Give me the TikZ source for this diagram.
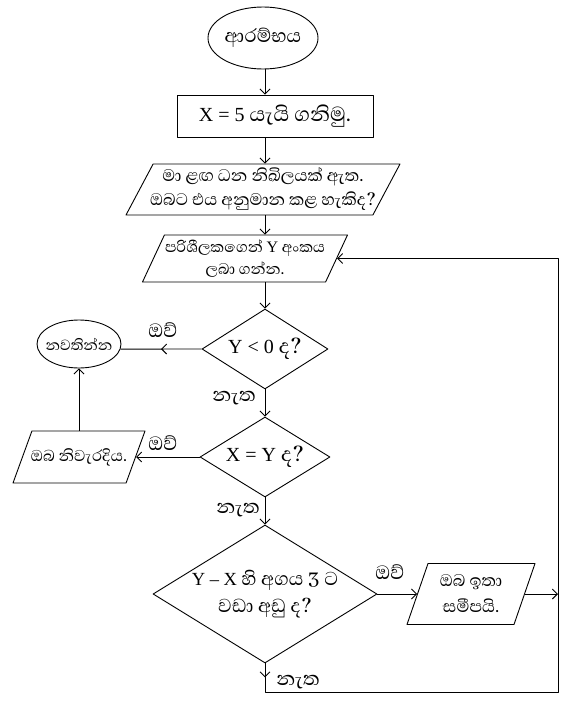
\documentclass[tikz,border=0pt]{standalone}
\usepackage{fontspec}
\setmainfont{Liberation Serif}
\newfontfamily\sifont[Script=Sinhala,Scale=1.3]{Abhaya Libre}
\usetikzlibrary{shapes.geometric,arrows.meta,decorations.markings}
\begin{document}
\begin{tikzpicture}[x=1pt,y=-1pt, line width=0.9pt, line join=round,
  tip/.style={-{Straight Barb[length=5pt,width=10pt,line width=0.9pt]}},
  midarrow/.style={postaction={decorate},decoration={markings,mark=at position #1 with {\arrow{Straight Barb[length=5pt,width=10pt,line width=0.9pt]}}}},
  shp/.style={draw, inner sep=0pt},
  sq/.style={shp, rectangle},
  oval/.style={shp, ellipse},
  dia/.style={shp, diamond},
  para/.style={shp, trapezium, trapezium stretches body},
  lab/.style={font=\sifont\fontsize{19}{19}\selectfont, inner sep=0pt},
]
\fill[white] (0,0) rectangle (561,704);
\useasboundingbox (0,0) rectangle (561,704);

% nodes
\node[oval, minimum width=110, minimum height=62,
  label={[font=\sifont\fontsize{18.5}{18.5}\selectfont]center:ආරම්භය}] (start) at (263,38) {};
\node[sq, minimum width=196, minimum height=42,
  label={[font=\fontsize{20}{20}\selectfont]center:X = 5 {\sifont යැයි ගනිමු.}}] (init) at (275,116) {};
\node[para, trapezium left angle=62, trapezium right angle=118, minimum width=274, minimum height=51,
  label={[font=\sifont\fontsize{16.5}{24}\selectfont, align=center]center:මා ළඟ ධන නිඛිලයක් ඇත.\\ඔබට එය අනුමාන කළ හැකිද?}] (q1) at (263,189.5) {\rule{0pt}{51pt}};
\node[para, trapezium left angle=65, trapezium right angle=115, minimum width=205, minimum height=47,
  label={[font=\sifont\fontsize{15}{22}\selectfont, align=center]center:පරිශීලකගෙන් {\rmfamily\fontsize{16}{16}\selectfont Y} අංකය\\ලබා ගන්න.}] (q2) at (245,258.5) {\rule{0pt}{47pt}};
\node[dia, minimum width=126, minimum height=80,
  label={[font=\fontsize{20}{20}\selectfont]center:Y < 0 {\sifont ද?}}] (d1) at (265,349) {};
\node[dia, minimum width=130, minimum height=80,
  label={[font=\fontsize{20}{20}\selectfont]center:X = Y {\sifont ද?}}] (d2) at (265,457) {};
\node[dia, minimum width=224, minimum height=138,
  label={[font=\fontsize{18.5}{27}\selectfont, align=center]center:Y – X {\sifont හි අගය 3 ට}\\{\sifont වඩා අඩු ද?}}] (d3) at (265,594) {};
\node[oval, minimum width=84, minimum height=48,
  label={[font=\sifont\fontsize{14.5}{14.5}\selectfont]center:නවතින්න}] (stop) at (79,344) {};
\node[para, trapezium left angle=70, trapezium right angle=110, minimum width=132, minimum height=52,
  label={[font=\sifont\fontsize{15.5}{15.5}\selectfont]center:ඔබ නිවැරදිය.}] (okp) at (79,457) {\rule{0pt}{52pt}};
\node[para, trapezium left angle=71, trapezium right angle=109, minimum width=128, minimum height=61,
  label={[font=\sifont\fontsize{16.5}{26}\selectfont, align=center]center:ඔබ ඉතා\\සමීපයි.}] (close) at (471,594) {\rule{0pt}{61pt}};

% labels
\node[lab] (y1) at (163,330) {ඔව්};
\node[lab] (n1) at (234,398) {නැත};
\node[lab] (y2) at (163,443) {ඔව්};
\node[lab] (n2) at (238,510) {නැත};
\node[lab] (y3) at (390,572) {ඔව්};
\node[lab] (n3) at (298,682) {නැත};

% coordinates
\coordinate (c1) at (265,692);
\coordinate (c2) at (558,692);
\coordinate (c4) at (558,594);

% connectors
\draw[tip] (start.south -| d1) -- (init.north -| d1);
\draw[tip] (init.south -| d1) -- (q1.north -| d1);
\draw[tip] (q1.south -| d1) -- (q2.north -| d1);
\draw[tip] (q2.south -| d1) -- (d1.north);
\draw[tip] (d1.south) -- (d2.north);
\draw[tip] (d2.south) -- (d3.north);
\draw[midarrow=0.5] (d1.west) -- (stop.-7);
\draw[tip] (d2.west) -- (okp.right side);
\draw[tip] (okp.north -| stop) -- (stop.south);
\draw[tip] (d3.east) -- (close.left side);
\draw[tip] (close.right side) -- (c4);
\draw[tip, midarrow=14pt] (d3.south) -- (c1) -- (c2) -- (c2 |- q2.right side) -- (q2.right side);
\end{tikzpicture}
\end{document}
